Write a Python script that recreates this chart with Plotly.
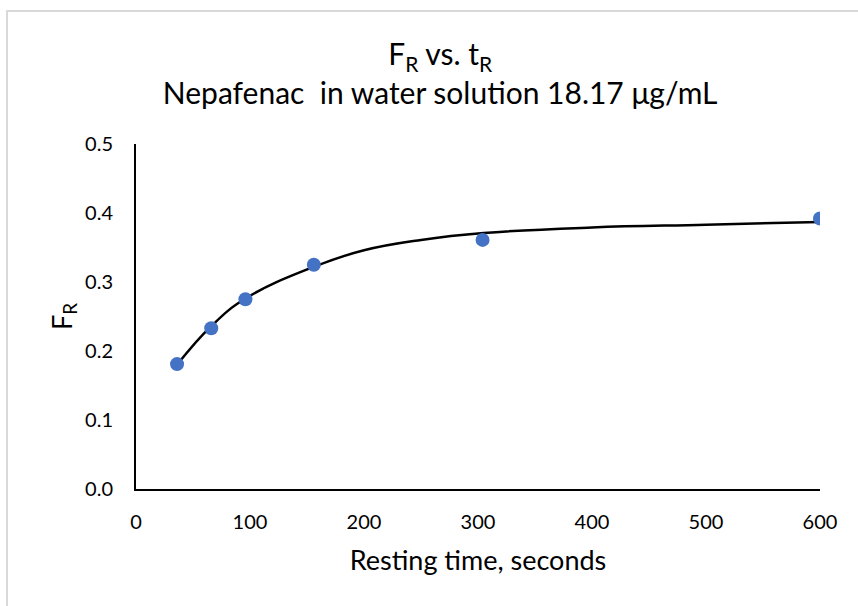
import plotly.graph_objects as go

# Data
resting_time = [36, 66, 96, 156, 304, 600]
fr_values = [0.181, 0.233, 0.275, 0.325, 0.361, 0.392]

# Trendline
trend_time = [36, 66, 96, 156, 200, 250, 305, 400, 500, 600]
trend_fr = [0.180, 0.236, 0.276, 0.322, 0.346, 0.361, 0.371, 0.379, 0.383, 0.387]

x_ticks = [0, 100, 200, 300, 400, 500, 600]
y_ticks = [0.0, 0.1, 0.2, 0.3, 0.4, 0.5]

FONT = "Lato"

fig = go.Figure()
fig.add_trace(go.Scatter(
    x=trend_time, y=trend_fr, mode="lines",
    line=dict(color="black", width=2.5, shape="spline", smoothing=1.2),
    hoverinfo="skip", showlegend=False,
))
fig.add_trace(go.Scatter(
    x=resting_time, y=fr_values, mode="markers",
    marker=dict(color="#4472C4", size=14),
    showlegend=False,
))

fig.update_layout(
    width=858, height=606,
    paper_bgcolor="white", plot_bgcolor="white",
    margin=dict(l=136, r=38, t=144, b=117),
    font=dict(family=FONT, color="#000000", size=20),
    title=dict(
        text="F<sub>R</sub> vs. t<sub>R</sub><br>Nepafenac  in water solution 18.17 μg/mL",
        x=0.513, xanchor="center", y=0.892, yanchor="top",
        font=dict(family=FONT, size=30, color="#000000"),
    ),
    xaxis=dict(
        range=[0, 600], tickvals=x_ticks, ticktext=[str(v) for v in x_ticks],
        showgrid=False, zeroline=False, showline=True, linecolor="black", linewidth=2,
        ticks="", tickfont=dict(size=20), ticklabelstandoff=14,
        title=dict(text="Resting time, seconds", font=dict(size=27), standoff=19),
    ),
    yaxis=dict(
        range=[0, 0.5], tickvals=y_ticks, ticktext=[f"{v:.1f}" for v in y_ticks],
        showgrid=False, zeroline=False, showline=True, linecolor="black", linewidth=2,
        ticks="", tickfont=dict(size=20), ticklabelstandoff=17,
        title=dict(text="F<sub>R</sub>", font=dict(size=27), standoff=5),
    ),
    shapes=[dict(type="rect", xref="paper", yref="paper",
                 x0=-0.1886, x1=1.2, y0=-0.5, y1=1.3855,
                 line=dict(color="#d9d9d9", width=2), layer="below")],
)

fig.write_html("out.html", config={"displayModeBar": False},
               post_script="document.body.style.margin='0';")
